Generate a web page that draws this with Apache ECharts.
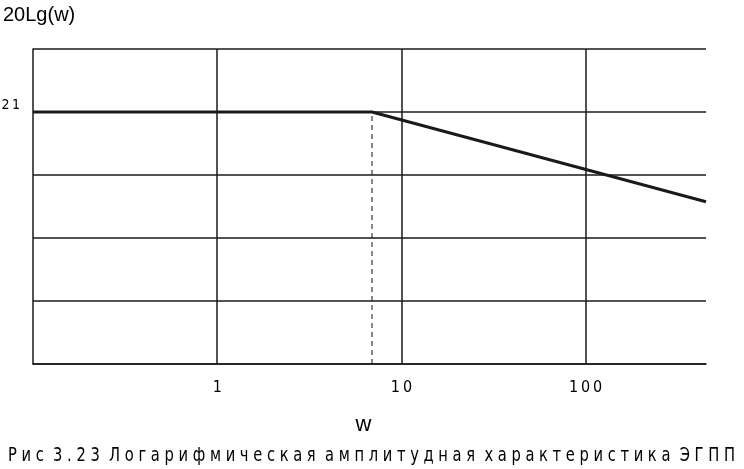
<!DOCTYPE html>
<html>
<head>
<meta charset="utf-8">
<script src="https://cdn.jsdelivr.net/npm/echarts@6/dist/echarts.min.js"></script>
<style>html,body{margin:0;padding:0;background:#fff;}#c{width:744px;height:469px;}</style>
</head>
<body>
<div id="c"></div>
<script>
// Data
const yTitle = '20Lg(w)';
const xTitle = 'w';
const caption = 'Рис 3.23 Логарифмическая амплитудная характеристика ЭГПП';
const xTicks = [1, 10, 100];
const yTicks = [21];
const responseW = [0.1, 6.92, 450];
const responseDb = [21, 21, -14.6];
const breakW = [6.92, 6.92];
const breakDb = [-79, 21];

const THIN = '\u2009';
const spacedTight = s => s.split('').join(THIN);
const spacedCaption = s => s.split(' ').map(w => w.split('').join(' ')).join('  ');
const condensed = "'DejaVu Sans Condensed','Liberation Sans Narrow','Arial Narrow',sans-serif";

const capText = spacedCaption(caption);
const capFont = "19px 'DejaVu Sans Condensed','Liberation Sans Narrow',sans-serif";
const mctx = document.createElement('canvas').getContext('2d');
mctx.font = capFont;
const capScale = 727 / mctx.measureText(capText).width;

const chart = echarts.init(document.getElementById('c'), null, {renderer: 'canvas'});
chart.setOption({
  animation: false,
  backgroundColor: '#fff',
  grid: {left: 33, top: 49, right: 38, bottom: 105, outerBoundsMode: 'none', containLabel: false},
  title: [
    {text: yTitle, left: 3, top: 5, padding: 0, textStyle: {fontFamily: "'Liberation Sans',Arial,sans-serif", fontSize: 20, fontWeight: 'normal', color: '#000'}}
  ],
  graphic: [
    {type: 'text', x: 8, y: 447, scaleX: capScale, style: {text: capText, font: capFont, fill: '#000'}}
  ],
  xAxis: {
    type: 'log', logBase: 10, min: 0.1, max: 450,
    name: xTitle, nameLocation: 'middle', nameGap: 50,
    nameTextStyle: {fontFamily: "'Liberation Sans',Arial,sans-serif", fontSize: 22, color: '#000', padding: [0, 12, 0, 0]},
    axisLine: {show: true, onZero: false, lineStyle: {color: '#1a1a1a', width: 1.5}},
    axisTick: {show: false},
    splitLine: {show: true, showMinLine: false, showMaxLine: false, lineStyle: {color: '#1a1a1a', width: 1.5}},
    axisLabel: {
      margin: 16, fontFamily: condensed, fontSize: 16, color: '#000',
      formatter: v => xTicks.some(t => Math.abs(Math.log10(v) - Math.log10(t)) < 1e-6) ? spacedTight(String(Math.round(v))) : ''
    }
  },
  yAxis: {
    type: 'value', min: -79, max: 46, interval: 25,
    axisLine: {show: true, lineStyle: {color: '#1a1a1a', width: 1.5}},
    axisTick: {show: false},
    splitLine: {show: true, lineStyle: {color: '#1a1a1a', width: 1.5}},
    axisLabel: {
      margin: 13, fontFamily: condensed, fontSize: 14, color: '#000', verticalAlign: 'bottom',
      formatter: v => yTicks.some(t => Math.abs(v - t) < 1e-6) ? spacedTight(String(Math.round(v))) : ''
    }
  },
  series: [
    {
      type: 'line', data: responseW.map((w, i) => [w, responseDb[i]]),
      symbol: 'none', lineStyle: {color: '#1a1a1a', width: 3}, z: 5
    },
    {
      type: 'line', data: breakW.map((w, i) => [w, breakDb[i]]),
      symbol: 'none', lineStyle: {color: '#111', width: 1, type: [5, 4]}, z: 4
    }
  ]
});
</script>
</body>
</html>
